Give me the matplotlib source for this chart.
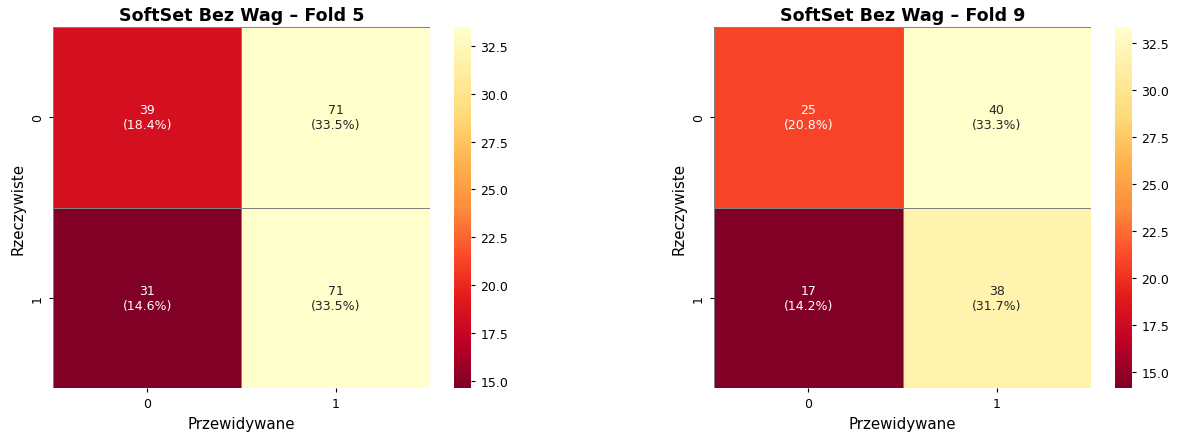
import numpy as np
import matplotlib
matplotlib.use("Agg")
import matplotlib.pyplot as plt
import seaborn as sns

classes = ["0", "1"]
titles = ["SoftSet Bez Wag – Fold 5", "SoftSet Bez Wag – Fold 9"]
counts_fold5 = np.array([[39, 71], [31, 71]])
counts_fold9 = np.array([[25, 40], [17, 38]])

# the reference looks like a slightly downscaled render, so fonts are ~0.9x
plt.rcParams["xtick.labelsize"] = 9
plt.rcParams["ytick.labelsize"] = 9
plt.rcParams["xtick.major.size"] = 3.2
plt.rcParams["ytick.major.size"] = 3.2

fig = plt.figure(figsize=(11.8, 4.39), dpi=100)

layout = [
    ([0.0449, 0.114, 0.3195, 0.822], [0.3847, 0.114, 0.0144, 0.822]),
    ([0.6051, 0.114, 0.3195, 0.822], [0.9449, 0.114, 0.0144, 0.822]),
]

for counts, title, (hm_pos, cb_pos) in zip([counts_fold5, counts_fold9], titles, layout):
    ax = fig.add_axes(hm_pos)
    cax = fig.add_axes(cb_pos)
    pct = counts / counts.sum() * 100
    labels = np.array([[f"{counts[i, j]}\n({pct[i, j]:.1f}%)" for j in range(2)] for i in range(2)])
    sns.heatmap(pct, annot=labels, fmt="", cmap="YlOrRd_r", ax=ax, cbar_ax=cax,
                annot_kws={"fontsize": 9},
                linewidths=0.5, linecolor="gray",
                xticklabels=classes, yticklabels=classes)
    ax.set_title(title, fontsize=12.6, fontweight="bold", pad=5)
    ax.set_xlabel("Przewidywane", fontsize=10.8)
    ax.set_ylabel("Rzeczywiste", fontsize=10.8)

fig.savefig("out.png", dpi=100)
